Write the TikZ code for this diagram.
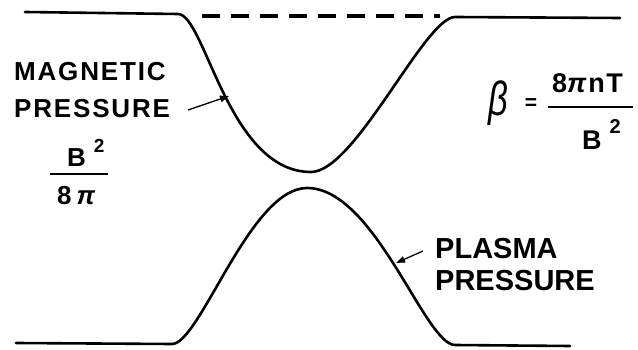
\documentclass[tikz,border=0pt]{standalone}
\usepackage{graphicx}
\usepackage{fontspec}
\setmainfont{Liberation Sans}
\newfontfamily\spacedfont[LetterSpace=7]{Liberation Sans}
\newfontfamily\formulafont[LetterSpace=6]{Liberation Sans}
\usetikzlibrary{arrows.meta}
\begin{document}
\begin{tikzpicture}[
  x=1pt,y=-1pt,
  curve/.style={line width=2.6pt, line cap=round, line join=round},
  pointer/.style={-{Triangle[length=9pt,width=6.5pt]}, line width=1.3pt},
  leftlabel/.style={inner sep=0pt, anchor=west, font=\spacedfont\bfseries\fontsize{26}{26}\selectfont},
  plasmalabel/.style={inner sep=0pt, anchor=west, font=\bfseries\fontsize{29}{29}\selectfont},
  formula/.style={inner sep=0pt, anchor=base west}
]
\useasboundingbox (0,0) rectangle (638,350);

% magnetic field pressure, dip in the middle
\draw[curve] (25,12) -- (178,14)
  .. controls (205,14) and (228,172) .. (311,172)
  .. controls (355,172) and (425,17) .. (455,17) -- (620,18);
\draw[curve, line width=3.5pt, line cap=butt, dash pattern=on 18pt off 11pt] (202,16) -- (440,16);

% plasma pressure, bump in the middle
\draw[curve] (16,343) -- (172,344)
  .. controls (200,344) and (250,188) .. (307,188)
  .. controls (375,188) and (425,345) .. (455,345) -- (570,346);

\node[leftlabel] (magnetic) at (14,72) {MAGNETIC};
\node[leftlabel] (magpres) at (14,109) {PRESSURE};
\node[formula, font=\bfseries\fontsize{26}{26}\selectfont] (bsq) at (67,167) {B\hspace{8pt}\raisebox{14pt}{\fontsize{19}{19}\selectfont 2}};
\draw[line width=2.4pt] (50,174) -- (108,174);
\node[formula, font=\bfseries\fontsize{26}{26}\selectfont] (eightpi) at (57,205) {8\hspace{5pt}\textit{π}};

\node[inner sep=0pt] (beta) at (498,103) {\scalebox{0.72}[1]{\fontsize{48}{48}\selectfont\itshape β}};
\node[inner sep=0pt, font=\bfseries\fontsize{21}{21}\selectfont] (equals) at (531,104) {=};
\node[formula, font=\formulafont\bfseries\fontsize{27}{27}\selectfont] (numer) at (552,93) {8\textit{π}nT};
\draw[line width=2.4pt] (548,107) -- (633,107);
\node[formula, font=\bfseries\fontsize{27}{27}\selectfont] (denom) at (582,150) {B\hspace{8pt}\raisebox{17pt}{\fontsize{20}{20}\selectfont 2}};

\node[plasmalabel] (plasma) at (435,249) {PLASMA};
\node[plasmalabel] (plaspres) at (435,281) {PRESSURE};

\coordinate (magtail) at (188,110);
\coordinate (magtip) at (229,96);
\coordinate (plastail) at (423,251);
\coordinate (plastip) at (396,263);
\draw[pointer] (magtail) -- (magtip);
\draw[pointer] (plastail) -- (plastip);
\end{tikzpicture}
\end{document}
